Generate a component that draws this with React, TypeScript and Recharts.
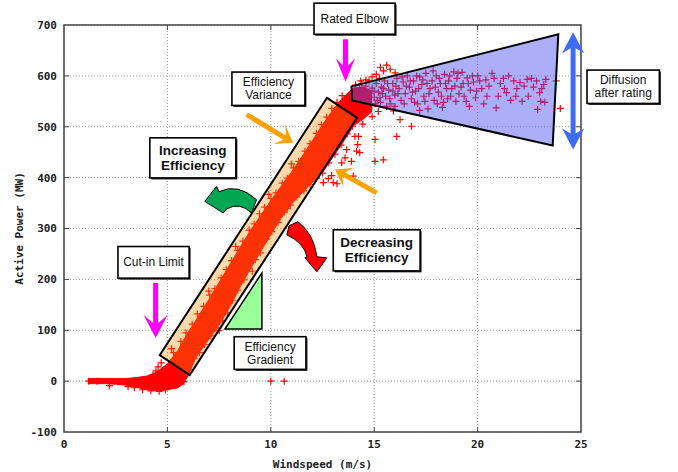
import React from 'react';
import { ComposedChart, Area, Scatter, XAxis, YAxis, CartesianGrid, ReferenceArea, Label } from 'recharts';

// ---------- axes ----------
const xDomain: [number, number] = [0, 25];
const yDomain: [number, number] = [-100, 700];
const xTicks = [0, 5, 10, 15, 20, 25];
const yTicks = [-100, 0, 100, 200, 300, 400, 500, 600, 700];

// ---------- dense core of the power curve (windspeed, lower, upper) ----------
const coreWind = [1.15, 1.5, 2.0, 2.5, 3.0, 3.5, 4.0, 4.5, 5.0, 5.5, 5.75, 6.0, 6.33, 6.5, 7.0, 7.5, 8.0, 8.5, 9.0, 9.5, 10.0, 10.5, 11.0, 11.5, 12.0, 12.5, 13.0, 13.5, 14.0, 14.5, 14.9];
const coreLow = [-5, -5, -5, -6, -8, -12, -17, -19, -17, -13, -6, 10, 42, 54, 82, 110, 144, 184, 220, 254, 288, 320, 348, 370, 390, 410, 440, 470, 502, 516, 530];
const coreHigh = [5, 5, 5, 5, 5, 7, 10, 18, 34, 60, 78, 96, 116, 128, 160, 194, 228, 262, 295, 325, 355, 383, 411, 441, 472, 504, 533, 558, 576, 578, 570];

// ---------- individual readings ----------
const cutInPoints: [number, number][] = [
  [1.2, 0], [1.6, 0], [2.2, -9], [3.1, -11], [3.4, -13], [3.8, -17], [4.2, -19], [4.6, -20], [4.9, -17],
  [4.1, 4], [4.3, 12], [4.45, 20], [4.55, 28], [4.7, 36], [4.8, 22], [5.2, 64], [10.0, 0], [10.65, 0],
];
const bandUpperPoints: [number, number][] = [
  [5.3, 56], [5.65, 78], [5.9, 95], [6.2, 112], [6.45, 132], [6.75, 147], [7.05, 169], [7.3, 182], [7.6, 203],
  [7.85, 219], [8.1, 237], [8.4, 257], [8.65, 275], [8.95, 297], [9.2, 309], [9.45, 329], [9.7, 342], [10.0, 359],
  [10.25, 370], [10.55, 389], [10.8, 399], [11.1, 419], [11.35, 432], [11.65, 452], [11.9, 467], [12.2, 487],
  [12.45, 504], [12.7, 519], [12.95, 536], [13.2, 548], [13.45, 561], [7.0, 177], [8.3, 265], [9.9, 367], [11.0, 427],
];
const bandLowerPoints: [number, number][] = [
  [5.8, -1], [6.05, 22], [6.3, 44], [6.55, 56], [6.8, 72], [7.1, 89], [7.35, 104], [7.65, 119], [7.9, 134],
  [8.15, 159], [8.4, 179], [8.7, 199], [8.95, 222], [9.25, 239], [9.5, 252], [9.8, 279], [10.05, 294], [10.35, 312],
  [10.65, 332], [10.95, 346], [11.25, 362], [11.6, 374], [11.9, 386], [12.2, 399], [12.5, 409], [12.8, 429],
  [13.1, 446], [13.4, 464], [13.7, 486], [13.95, 501], [7.5, 99], [9.1, 216], [10.8, 339],
];
const elbowPoints: [number, number][] = [
  [13.6, 545], [13.8, 560], [14.0, 548], [14.1, 530], [14.3, 540], [14.45, 505], [14.2, 515], [14.5, 525],
  [14.75, 535], [14.9, 520], [15.05, 545], [15.2, 530], [14.1, 582], [14.35, 590], [14.6, 592], [14.9, 598],
  [15.1, 603], [15.3, 617], [15.45, 610], [15.6, 621], [15.77, 613], [16.01, 606], [15.28, 557], [15.93, 531],
  [16.25, 514], [16.8, 501], [15.6, 540],
];
const outlierPoints: [number, number][] = [
  [12.54, 390], [12.78, 398], [12.94, 404], [13.02, 390], [13.2, 388], [13.99, 403], [13.43, 429], [13.59, 439],
  [13.9, 432], [13.67, 455], [14.15, 452], [14.3, 449], [14.07, 481], [14.2, 465], [14.24, 481], [15.04, 475],
  [15.04, 432], [15.44, 435], [16.09, 481],
];
const diffusionPoints: [number, number][] = [
  [14.2, 565], [14.3, 575], [14.4, 558], [14.5, 570], [14.6, 580], [14.7, 552], [14.8, 566], [14.9, 576], [15.0, 558],
  [15.1, 585], [15.2, 568], [15.3, 548], [15.35, 578], [15.5, 590], [15.55, 560], [15.7, 572], [15.8, 545], [15.9, 585],
  [16.0, 562], [16.1, 595], [16.2, 575], [16.3, 552], [16.4, 588], [16.5, 565], [16.6, 600], [16.7, 578], [16.8, 555],
  [16.9, 590], [17.0, 570], [17.1, 545], [17.2, 598], [17.3, 583], [17.4, 560], [17.5, 605], [17.6, 535], [17.7, 575],
  [17.8, 590], [17.9, 552], [18.0, 600], [18.1, 568], [18.2, 585], [18.35, 548], [18.4, 603], [18.5, 575], [18.6, 590],
  [18.7, 560], [18.85, 608], [18.9, 580], [19.0, 595], [19.1, 565], [19.25, 607], [19.3, 585], [19.45, 550], [19.5, 596],
  [19.65, 572], [19.8, 588], [19.9, 557], [20.0, 600], [20.2, 575], [20.4, 592], [20.45, 560], [20.7, 605], [20.9, 537],
  [21.1, 585], [21.25, 595], [21.4, 567], [21.6, 552], [21.75, 590], [21.9, 575], [22.05, 587], [22.15, 550], [22.4, 593],
  [22.45, 560], [22.7, 578], [22.85, 590], [22.9, 534], [23.0, 567], [23.05, 550], [23.2, 583], [23.3, 593],
  [16.0, 540], [17.2, 532], [18.3, 538], [19.6, 540], [20.3, 545], [14.6, 560], [15.0, 570], [15.4, 565], [15.9, 570],
  [14.4, 585], [14.55, 548], [14.75, 590], [14.85, 545], [15.15, 552], [15.25, 595], [15.45, 575], [15.65, 585],
  [15.75, 555], [16.05, 580], [16.15, 565], [16.35, 598], [16.45, 545], [16.55, 580], [16.75, 590], [16.85, 568],
  [16.95, 548], [17.05, 600], [17.15, 575], [17.35, 592], [17.45, 550], [17.55, 585], [17.65, 565], [17.85, 610],
  [17.95, 578], [18.05, 545], [18.15, 595], [18.25, 560], [18.45, 585], [18.55, 555], [18.65, 600], [18.75, 575],
  [18.95, 550], [19.05, 605], [19.2, 578], [19.35, 560], [19.55, 585], [19.75, 600], [19.95, 570], [20.1, 590],
  [20.55, 580], [20.8, 595], [21.0, 560], [21.3, 575], [21.5, 600], [21.85, 560], [22.25, 580], [22.6, 595],
  [23.1, 575], [23.25, 548],
  [23.8, 590], [24.0, 536],
];

// ---------- annotations (in data units) ----------
const textBoxes = [
  { x1: 12.09, y1: 742.9, x2: 16.01, y2: 681.8, lines: ['Rated Elbow'], bold: false },
  { x1: 25.29, y1: 611.4, x2: 28.79, y2: 545.8, lines: ['Diffusion', 'after rating'], bold: false },
  { x1: 8.12, y1: 607.5, x2: 11.65, y2: 541.9, lines: ['Efficiency', 'Variance'], bold: false },
  { x1: 4.15, y1: 478.2, x2: 8.31, y2: 399.4, lines: ['Increasing', 'Efficiency'], bold: true },
  { x1: 13.02, y1: 297.5, x2: 17.22, y2: 216.7, lines: ['Decreasing', 'Efficiency'], bold: true },
  { x1: 2.61, y1: 264.6, x2: 6.05, y2: 202.4, lines: ['Cut-in Limit'], bold: false },
  { x1: 8.23, y1: 87.3, x2: 11.7, y2: 23.1, lines: ['Efficiency', 'Gradient'], bold: false },
];
const varianceBand: [number, number][] = [[4.63, 51.2], [6.08, 11.8], [14.17, 517.6], [12.72, 557]];
const diffusionZone: [number, number][] = [[13.9, 579.3], [23.9, 681.8], [23.63, 463.1], [13.93, 551.7]];
const gradientTriangle: [number, number][] = [[7.78, 102.5], [9.57, 102.5], [9.57, 212.8]];
const straightArrows = [
  { from: [13.61, 671.9], to: [13.61, 589.2], color: '#ff00ff', w: 2.5, L: 16, b: 7, hw: 9.5, double: false },
  { from: [4.43, 193.1], to: [4.43, 84.7], color: '#ff00ff', w: 2.5, L: 15, b: 8, hw: 12, double: false },
  { from: [8.83, 524.1], to: [11.08, 468.4], color: '#ffa200', w: 2.5, L: 10, b: 6, hw: 11, double: false },
  { from: [15.12, 369.9], to: [13.1, 415.8], color: '#ffa200', w: 2.5, L: 10, b: 6, hw: 11, double: false },
  { from: [24.62, 685.7], to: [24.62, 455.2], color: '#3c6cf2', w: 2.5, L: 16, b: 5, hw: 11, double: true },
];
// curved arrows: sequence of [cmd, points...]
const greenArrow: [string, number[][]][] = [
  ['M', [[6.81, 353.3]]], ['L', [[7.38, 382.9]]], ['L', [[7.49, 372.4]]], ['Q', [[8.41, 390.2], [9.31, 356.7]]],
  ['L', [[9.07, 330.4]]], ['Q', [[8.5, 352.7], [7.88, 338.9]]], ['L', [[7.7, 330.4]]],
];
const redArrow: [string, number[][]][] = [
  ['M', [[10.78, 287.7]]], ['L', [[10.88, 305.4]]], ['L', [[11.31, 313.3]]], ['Q', [[12.09, 289.7], [12.23, 244.3]]],
  ['L', [[12.71, 242.4]]], ['L', [[12.23, 214.8]]], ['L', [[11.65, 242.4]]], ['L', [[11.75, 244.3]]],
  ['Q', [[11.6, 271.9], [10.78, 287.7]]],
];

const toObjs = (pts: [number, number][]) => pts.map(([x, y]) => ({ x, y }));
const coreData = coreWind.map((x, i) => ({ x, band: [coreLow[i], coreHigh[i]] }));

const PLUS = 3.5;
function Plus(props: any) {
  const { cx, cy } = props;
  if (cx == null || cy == null || isNaN(cx) || isNaN(cy)) return null;
  return (
    <path d={`M${cx - PLUS},${cy}H${cx + PLUS}M${cx},${cy - PLUS}V${cy + PLUS}`} stroke="#ff0000" strokeWidth={1.2} fill="none" />
  );
}

function arrowPolygon(tx: number, ty: number, hx: number, hy: number, w: number, L: number, b: number, hw: number, dbl: boolean) {
  const dx = hx - tx, dy = hy - ty;
  const len = Math.hypot(dx, dy);
  const ux = dx / len, uy = dy / len;
  const nx = -uy, ny = ux;
  const pt = (bx: number, by: number, along: number, side: number) => [bx + ux * along + nx * side, by + uy * along + ny * side];
  const pts: number[][] = [];
  pts.push(pt(hx, hy, 0, 0));
  pts.push(pt(hx, hy, -(L + b), hw));
  pts.push(pt(hx, hy, -L, w));
  if (dbl) {
    pts.push(pt(tx, ty, L, w));
    pts.push(pt(tx, ty, L + b, hw));
    pts.push(pt(tx, ty, 0, 0));
    pts.push(pt(tx, ty, L + b, -hw));
    pts.push(pt(tx, ty, L, -w));
  } else {
    pts.push(pt(tx, ty, 0, w));
    pts.push(pt(tx, ty, 0, -w));
  }
  pts.push(pt(hx, hy, -L, -w));
  pts.push(pt(hx, hy, -(L + b), -hw));
  return pts.map((p) => `${p[0].toFixed(1)},${p[1].toFixed(1)}`).join(' ');
}

const tickStyle = { fontFamily: '"DejaVu Sans Mono", monospace', fontSize: 11, fontWeight: 'bold', fill: '#222' };
const boxFont = '"Liberation Sans", Arial, sans-serif';

function Overlay(props: any) {
  const { x, y, width, height } = props;
  if (x == null || width == null) return null;
  const sx = (v: number) => x + ((v - xDomain[0]) / (xDomain[1] - xDomain[0])) * width;
  const sy = (v: number) => y + height - ((v - yDomain[0]) / (yDomain[1] - yDomain[0])) * height;
  const poly = (pts: [number, number][]) => pts.map(([a, c]) => `${sx(a).toFixed(1)},${sy(c).toFixed(1)}`).join(' ');
  const pathOf = (segs: [string, number[][]][]) =>
    segs.map(([cmd, ps]) => cmd + ps.map((p) => `${sx(p[0]).toFixed(1)},${sy(p[1]).toFixed(1)}`).join(' ')).join(' ') + ' Z';
  const tl = 5;
  return (
    <g>
      {/* frame and mirrored inward ticks */}
      <rect x={x} y={y} width={width} height={height} fill="none" stroke="#444" strokeWidth={1.5} />
      {xTicks.slice(1, -1).map((t) => (
        <g key={'xt' + t}>
          <line x1={sx(t)} x2={sx(t)} y1={y + height} y2={y + height - tl} stroke="#444" strokeWidth={1} />
          <line x1={sx(t)} x2={sx(t)} y1={y} y2={y + tl} stroke="#444" strokeWidth={1} />
        </g>
      ))}
      {yTicks.slice(1, -1).map((t) => (
        <g key={'yt' + t}>
          <line x1={x} x2={x + tl} y1={sy(t)} y2={sy(t)} stroke="#444" strokeWidth={1} />
          <line x1={x + width} x2={x + width - tl} y1={sy(t)} y2={sy(t)} stroke="#444" strokeWidth={1} />
        </g>
      ))}
      {/* translucent zones over the points */}
      <polygon points={poly(varianceBand)} fill="rgb(245,143,15)" fillOpacity={0.35} stroke="#000" strokeWidth={2} strokeLinejoin="miter" />
      <polygon points={poly(diffusionZone)} fill="rgb(70,75,240)" fillOpacity={0.45} stroke="#000" strokeWidth={2} strokeLinejoin="miter" />
      <polygon points={poly(gradientTriangle)} fill="#99ff99" stroke="#000" strokeWidth={1.5} />
      {/* curved arrows */}
      <path d={pathOf(greenArrow)} fill="#00a651" stroke="#000" strokeWidth={1} strokeLinejoin="round" />
      <path d={pathOf(redArrow)} fill="#ff0000" stroke="#000" strokeWidth={1} strokeLinejoin="round" />
      {/* straight arrows */}
      {straightArrows.map((a, i) => (
        <polygon
          key={'ar' + i}
          points={arrowPolygon(sx(a.from[0]), sy(a.from[1]), sx(a.to[0]), sy(a.to[1]), a.w, a.L, a.b, a.hw, a.double)}
          fill={a.color}
        />
      ))}
      {/* text boxes */}
      {textBoxes.map((bx, i) => {
        const X1 = sx(bx.x1), X2 = sx(bx.x2), Y1 = sy(bx.y1), Y2 = sy(bx.y2);
        const cx = (X1 + X2) / 2, cy = (Y1 + Y2) / 2;
        const lh = bx.bold ? 15 : 13;
        return (
          <g key={'bx' + i}>
            <rect x={X1 + 1.5} y={Y1 + 1.5} width={X2 - X1} height={Y2 - Y1} fill="#222" />
            <rect x={X1} y={Y1} width={X2 - X1} height={Y2 - Y1} fill="#fff" stroke="#000" strokeWidth={1.6} />
            {bx.lines.map((ln, j) => (
              <text
                key={j}
                x={cx}
                y={cy + (j - (bx.lines.length - 1) / 2) * lh}
                textAnchor="middle"
                dominantBaseline="central"
                fontFamily={boxFont}
                fontSize={bx.bold ? 13.5 : 12}
                fontWeight={bx.bold ? 'bold' : 'normal'}
                fill="#111"
              >
                {ln}
              </text>
            ))}
          </g>
        );
      })}
    </g>
  );
}

export default function App() {
  return (
    <div style={{ position: 'absolute', left: 0, top: 0, width: 678, height: 472, background: '#fff' }}>
      <ComposedChart width={678} height={472} data={coreData} margin={{ top: 25, right: 97, bottom: 0, left: 0 }}>
        <CartesianGrid stroke="#9a9a9a" strokeDasharray="1 2" />
        <XAxis
          dataKey="x"
          type="number"
          domain={xDomain}
          ticks={xTicks}
          interval={0}
          allowDataOverflow
          height={40}
          axisLine={false}
          tickLine={false}
          tickSize={5}
          tickMargin={3}
          tick={tickStyle}
        >
          <Label value="Windspeed (m/s)" position="insideBottom" offset={4} style={{ fontFamily: '"DejaVu Sans Mono", monospace', fontSize: 11, fontWeight: 'bold', fill: '#222' }} />
        </XAxis>
        <YAxis
          type="number"
          domain={yDomain}
          ticks={yTicks}
          interval={0}
          allowDataOverflow
          width={64}
          axisLine={false}
          tickLine={false}
          tickSize={5}
          tickMargin={2}
          tick={tickStyle}
        >
          <Label value="Active Power (MW)" angle={-90} position="insideLeft" offset={19} style={{ textAnchor: 'middle', fontFamily: '"DejaVu Sans Mono", monospace', fontSize: 11, fontWeight: 'bold', fill: '#222' }} />
        </YAxis>
        <Area dataKey="band" type="linear" stroke="#ff0000" strokeWidth={1} fill="#ff0000" fillOpacity={1} dot={false} activeDot={false} isAnimationActive={false} />
        <Scatter data={toObjs(cutInPoints)} dataKey="y" shape={Plus} isAnimationActive={false} />
        <Scatter data={toObjs(bandUpperPoints)} dataKey="y" shape={Plus} isAnimationActive={false} />
        <Scatter data={toObjs(bandLowerPoints)} dataKey="y" shape={Plus} isAnimationActive={false} />
        <Scatter data={toObjs(elbowPoints)} dataKey="y" shape={Plus} isAnimationActive={false} />
        <Scatter data={toObjs(outlierPoints)} dataKey="y" shape={Plus} isAnimationActive={false} />
        <Scatter data={toObjs(diffusionPoints)} dataKey="y" shape={Plus} isAnimationActive={false} />
        <ReferenceArea
          x1={xDomain[0]}
          x2={xDomain[1]}
          y1={yDomain[0]}
          y2={yDomain[1]}
          ifOverflow="visible"
          shape={Overlay}
          {...({ zIndex: 2000 } as any)}
        />
      </ComposedChart>
    </div>
  );
}
